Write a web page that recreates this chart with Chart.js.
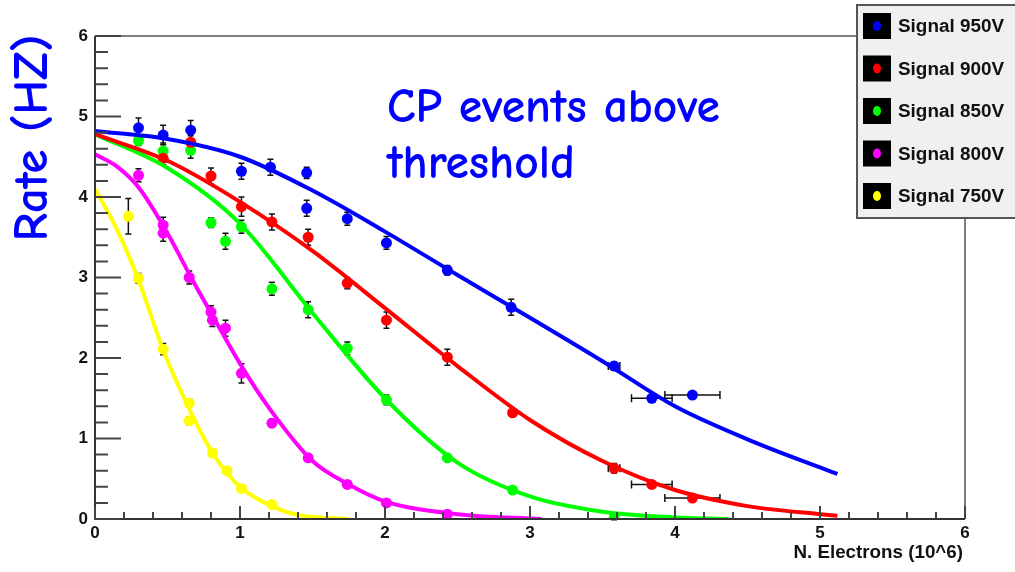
<!DOCTYPE html>
<html>
<head>
<meta charset="utf-8">
<script src="https://cdn.jsdelivr.net/npm/chart.js@4.4.1/dist/chart.umd.min.js"></script>
<style>
    html, body { margin: 0; padding: 0; background: #fff; }
</style>
</head>
<body>
<canvas id="myChart" width="1015" height="572"></canvas>
<script>
// Data

const labels = ['Signal 950V', 'Signal 900V', 'Signal 850V', 'Signal 800V', 'Signal 750V'];
const colors = ['#0000ff', '#ff0000', '#00ff00', '#ff00ff', '#ffff00'];

// measured points
const x950 = [0.30, 0.47, 0.66, 1.01, 1.21, 1.46, 1.46, 1.74, 2.01, 2.43, 2.87, 3.58, 3.84, 4.12];
const y950 = [4.86, 4.77, 4.83, 4.32, 4.37, 4.30, 3.86, 3.73, 3.43, 3.09, 2.63, 1.90, 1.50, 1.54];
const ey950 = [0.12, 0.12, 0.12, 0.10, 0.10, 0.07, 0.10, 0.08, 0.08, 0.06, 0.10, 0.05, 0.04, 0.03];
const ex950 = [0, 0, 0, 0, 0, 0, 0, 0, 0, 0, 0, 0.04, 0.14, 0.19];

const x900 = [0.47, 0.66, 0.80, 1.01, 1.22, 1.47, 1.74, 2.01, 2.43, 2.88, 3.58, 3.84, 4.12];
const y900 = [4.48, 4.68, 4.26, 3.88, 3.69, 3.50, 2.93, 2.47, 2.01, 1.32, 0.63, 0.43, 0.26];
const ey900 = [0.08, 0.08, 0.10, 0.12, 0.10, 0.10, 0.07, 0.10, 0.10, 0.04, 0.06, 0.03, 0.03];
const ex900 = [0, 0, 0, 0, 0, 0, 0, 0, 0, 0, 0.04, 0.14, 0.19];

const x850 = [0.30, 0.47, 0.66, 0.80, 0.90, 1.01, 1.22, 1.47, 1.74, 2.01, 2.43, 2.88, 3.58];
const y850 = [4.70, 4.57, 4.58, 3.68, 3.45, 3.63, 2.86, 2.60, 2.12, 1.48, 0.76, 0.36, 0.01];
const ey850 = [0.06, 0.10, 0.10, 0.06, 0.10, 0.08, 0.08, 0.10, 0.08, 0.06, 0.04, 0.03, 0.02];

const x800 = [0.30, 0.47, 0.47, 0.65, 0.80, 0.81, 0.90, 1.01, 1.22, 1.47, 1.74, 2.01, 2.43];
const y800 = [4.27, 3.65, 3.55, 3.00, 2.57, 2.47, 2.37, 1.81, 1.19, 0.76, 0.43, 0.20, 0.06];
const ey800 = [0.08, 0.10, 0.10, 0.08, 0.08, 0.08, 0.10, 0.12, 0.05, 0.04, 0.04, 0.04, 0.04];

const x750 = [0.23, 0.30, 0.47, 0.65, 0.65, 0.81, 0.91, 1.01, 1.22];
const y750 = [3.76, 2.99, 2.11, 1.44, 1.22, 0.82, 0.60, 0.38, 0.18];
const ey750 = [0.22, 0.06, 0.07, 0.05, 0.05, 0.04, 0.04, 0.04, 0.04];

// fitted curves
const fx950 = [0, 0.5, 1, 1.5, 2, 2.5, 3, 3.5, 4, 4.5, 5, 5.12];
const fy950 = [4.82, 4.72, 4.50, 4.08, 3.57, 3.03, 2.50, 1.96, 1.40, 0.99, 0.64, 0.56];

const fx900 = [0, 0.5, 1, 1.5, 2, 2.5, 3, 3.5, 4, 4.5, 5, 5.12];
const fy900 = [4.78, 4.45, 3.94, 3.33, 2.62, 1.90, 1.23, 0.72, 0.36, 0.16, 0.06, 0.04];

const fx850 = [0, 0.5, 1, 1.5, 2, 2.5, 3, 3.5, 4, 4.37];
const fy850 = [4.78, 4.36, 3.67, 2.56, 1.50, 0.70, 0.28, 0.09, 0.02, 0.0];

const fx800 = [0, 0.15, 0.3, 0.5, 0.66, 0.8, 1.0, 1.2, 1.5, 1.75, 2.0, 2.5, 3.08];
const fy800 = [4.53, 4.38, 4.12, 3.55, 3.01, 2.56, 1.93, 1.38, 0.72, 0.43, 0.22, 0.06, 0.0];

const fx750 = [0, 0.15, 0.3, 0.47, 0.66, 0.81, 1.0, 1.23, 1.4, 1.75];
const fy750 = [4.10, 3.60, 2.97, 2.10, 1.33, 0.82, 0.40, 0.15, 0.05, 0.0];

const xTicks = [0, 1, 2, 3, 4, 5, 6];
const yTicks = [0, 1, 2, 3, 4, 5, 6];


function pts(xs, ys) {
    return xs.map((v, i) => ({ x: v, y: ys[i] }));
}

const points = [
    [x950, y950, ey950, ex950],
    [x900, y900, ey900, ex900],
    [x850, y850, ey850, null],
    [x800, y800, ey800, null],
    [x750, y750, ey750, null]
];
const fits = [[fx950, fy950], [fx900, fy900], [fx850, fy850], [fx800, fy800], [fx750, fy750]];

const datasets = [];
fits.forEach((f, i) => {
    datasets.push({
        label: labels[i] + ' fit',
        data: pts(f[0], f[1]),
        showLine: true,
        borderColor: colors[i],
        borderWidth: 4,
        pointRadius: 0,
        cubicInterpolationMode: 'monotone',
        order: 0
    });
});
points.forEach((p, i) => {
    datasets.push({
        label: labels[i],
        data: pts(p[0], p[1]),
        yErr: p[2],
        xErr: p[3],
        showLine: false,
        pointRadius: 5.5,
        pointBorderWidth: 0,
        backgroundColor: colors[i],
        order: 1
    });
});

const tickFont = { family: '"Liberation Sans", Arial, sans-serif', size: 17, weight: 'bold' };
const titleFamily = '"Comic Sans MS", "Comic Neue", "DejaVu Sans", sans-serif';

function fitFont(ctx, text, family, weight, width) {
    ctx.font = weight + ' 40px ' + family;
    const s = 40 * width / ctx.measureText(text).width;
    return weight + ' ' + s.toFixed(1) + 'px ' + family;
}

// error bars, ticks, frame, legend and texts
const rootLook = {
    id: 'rootLook',
    beforeDatasetsDraw(chart) {
        const { ctx, scales: { x, y } } = chart;
        ctx.save();
        ctx.strokeStyle = '#111';
        ctx.lineWidth = 1.5;
        chart.data.datasets.forEach(ds => {
            if (!ds.yErr) return;
            ds.data.forEach((d, i) => {
                const px = x.getPixelForValue(d.x);
                const py = y.getPixelForValue(d.y);
                const e = ds.yErr[i];
                if (e) {
                    const t = y.getPixelForValue(d.y + e);
                    const b = y.getPixelForValue(d.y - e);
                    ctx.beginPath();
                    ctx.moveTo(px, t); ctx.lineTo(px, b);
                    ctx.moveTo(px - 3, t); ctx.lineTo(px + 3, t);
                    ctx.moveTo(px - 3, b); ctx.lineTo(px + 3, b);
                    ctx.stroke();
                }
                const ex = ds.xErr ? ds.xErr[i] : 0;
                if (ex) {
                    const l = x.getPixelForValue(d.x - ex);
                    const r = x.getPixelForValue(d.x + ex);
                    ctx.beginPath();
                    ctx.moveTo(l, py); ctx.lineTo(r, py);
                    ctx.moveTo(l, py - 4); ctx.lineTo(l, py + 4);
                    ctx.moveTo(r, py - 4); ctx.lineTo(r, py + 4);
                    ctx.stroke();
                }
            });
        });
        ctx.restore();
    },
    afterDraw(chart) {
        const { ctx, chartArea: a, scales: { x, y } } = chart;
        ctx.save();

        // frame
        ctx.strokeStyle = '#555';
        ctx.lineWidth = 1.5;
        ctx.beginPath();
        ctx.moveTo(a.left, a.top); ctx.lineTo(a.right, a.top); ctx.lineTo(a.right, a.bottom);
        ctx.stroke();
        ctx.strokeStyle = '#333';
        ctx.lineWidth = 2;
        ctx.beginPath();
        ctx.moveTo(a.left, a.top); ctx.lineTo(a.left, a.bottom); ctx.lineTo(a.right, a.bottom);
        ctx.stroke();

        // ticks pointing inwards, minor every 0.2
        ctx.strokeStyle = '#444';
        ctx.lineWidth = 2;
        ctx.beginPath();
        for (let k = 0; k <= 30; k++) {
            const v = k / 5;
            const major = k % 5 === 0;
            const py = y.getPixelForValue(v);
            ctx.moveTo(a.left, py); ctx.lineTo(a.left + (major ? 26 : 13), py);
            const px = x.getPixelForValue(v);
            ctx.moveTo(px, a.bottom); ctx.lineTo(px, a.bottom - (major ? 13 : 7));
        }
        ctx.stroke();

        // legend
        ctx.fillStyle = '#f0f0f0';
        ctx.fillRect(857, 5, 170, 213);
        ctx.strokeStyle = '#555';
        ctx.lineWidth = 2;
        ctx.strokeRect(857, 5, 170, 213);
        const lf = fitFont(ctx, 'Signal 950V', '"Liberation Sans", Arial, sans-serif', 'bold', 106);
        labels.forEach((t, i) => {
            const cy = 26 + i * 42.5;
            ctx.fillStyle = '#000';
            ctx.fillRect(863, cy - 13, 28, 26);
            ctx.fillStyle = colors[i];
            ctx.beginPath();
            ctx.ellipse(877, cy, 4, 5, 0, 0, Math.PI * 2);
            ctx.fill();
            ctx.fillStyle = '#111';
            ctx.font = lf;
            ctx.textAlign = 'left';
            ctx.textBaseline = 'middle';
            ctx.fillText(t, 898, cy + 1);
        });

        // annotation
        ctx.fillStyle = '#0000ff';
        ctx.textAlign = 'left';
        ctx.textBaseline = 'alphabetic';
        ctx.font = fitFont(ctx, 'CP events above', titleFamily, 'bold', 333);
        ctx.fillText('CP events above', 387, 122);
        ctx.fillText('threshold', 387, 178);

        // y title
        ctx.save();
        ctx.translate(47, 138);
        ctx.rotate(-Math.PI / 2);
        ctx.textAlign = 'center';
        ctx.font = fitFont(ctx, 'Rate (HZ)', titleFamily, 'bold', 207);
        ctx.fillText('Rate (HZ)', 0, 0);
        ctx.restore();

        // x title
        ctx.fillStyle = '#111';
        ctx.textAlign = 'right';
        ctx.textBaseline = 'middle';
        ctx.font = fitFont(ctx, 'N. Electrons (10^6)', '"Liberation Sans", Arial, sans-serif', 'bold', 170);
        ctx.fillText('N. Electrons (10^6)', 963, 553);

        ctx.restore();
    }
};

const ctx = document.getElementById('myChart').getContext('2d');
const myChart = new Chart(ctx, {
    type: 'scatter',
    data: { datasets: datasets },
    plugins: [rootLook],
    options: {
        responsive: false,
        animation: false,
        layout: {
            padding: { left: 0, top: 36, right: 50, bottom: 0 }
        },
        plugins: {
            legend: { display: false },
            tooltip: { enabled: false }
        },
        scales: {
            x: {
                type: 'linear',
                min: 0,
                max: 6,
                afterBuildTicks: s => { s.ticks = xTicks.map(v => ({ value: v })); },
                afterFit: s => { s.height = 53; },
                grid: { display: false, drawTicks: false },
                border: { display: false },
                ticks: { font: tickFont, color: '#111', padding: 4, maxRotation: 0 }
            },
            y: {
                type: 'linear',
                min: 0,
                max: 6,
                afterBuildTicks: s => { s.ticks = yTicks.map(v => ({ value: v })); },
                afterFit: s => { s.width = 95; },
                grid: { display: false, drawTicks: false },
                border: { display: false },
                ticks: { font: tickFont, color: '#111', padding: 7 }
            }
        }
    }
});
</script>
</body>
</html>
